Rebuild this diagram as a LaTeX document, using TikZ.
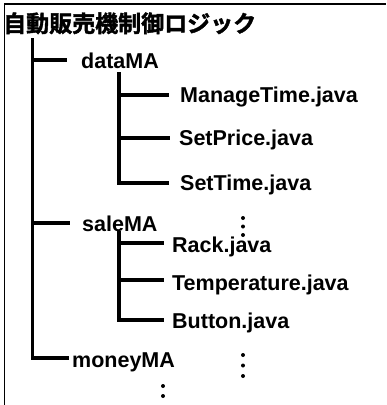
\documentclass[tikz,border=0pt]{standalone}
\usepackage{fontspec}
\setmainfont{Liberation Sans}
\newfontfamily\cjk[FakeBold=1.8]{Noto Sans CJK JP Bold}
\begin{document}
\begin{tikzpicture}[x=1pt,y=-1pt,
  lbl/.style={anchor=base west,inner sep=0pt,font=\fontsize{21.5}{24}\selectfont\bfseries},
  tree/.style={line width=3.2pt,line cap=rect},
  frame/.style={line width=1.8pt},
  dotc/.style={circle,fill=black,inner sep=0pt,minimum size=4pt}]
\useasboundingbox (0,0) rectangle (387,405);
% frame
\coordinate (fb) at (4.5,405);
\coordinate (ftl) at (4.5,4);
\coordinate (ftr) at (386,4);
\draw[frame] (fb) -- (ftl) -- (ftr);
% title
\node[anchor=base west,inner sep=0pt,font=\cjk\fontsize{23}{26}\selectfont] (title) at (3,32) {自動販売機制御ロジック};
% labels
\node[lbl] (dataMA) at (81,68) {dataMA};
\node[lbl] (manage) at (180,102) {ManageTime.java};
\node[lbl] (setprice) at (179,145) {SetPrice.java};
\node[lbl] (settime) at (180,190) {SetTime.java};
\node[lbl] (saleMA) at (82,231) {saleMA};
\node[lbl] (rack) at (172,252) {Rack.java};
\node[lbl] (temp) at (172,290) {Temperature.java};
\node[lbl] (button) at (172,328) {Button.java};
\node[lbl] (moneyMA) at (72,367) {moneyMA};
% trunk
\coordinate (t0) at (32.5,40);
\coordinate (eData) at (65,60);
\coordinate (eSale) at (68,223);
\coordinate (eMoney) at (67,358);
\draw[tree] (t0) |- (eMoney);
\draw[tree] (t0 |- eData) -- (eData);
\draw[tree] (t0 |- eSale) -- (eSale);
% data subtree
\coordinate (s0) at (119,74);
\coordinate (eManage) at (167,95);
\coordinate (ePrice) at (168,138);
\coordinate (eSetTime) at (167,183);
\draw[tree] (s0) |- (eSetTime);
\draw[tree] (s0 |- eManage) -- (eManage);
\draw[tree] (s0 |- ePrice) -- (ePrice);
% sale subtree
\coordinate (s1) at (119,233);
\coordinate (eRack) at (162,243);
\coordinate (eTemp) at (162,280);
\coordinate (eButton) at (162,320);
\draw[tree] (s1) |- (eButton);
\draw[tree] (s1 |- eRack) -- (eRack);
\draw[tree] (s1 |- eTemp) -- (eTemp);
% ellipses
\node[dotc] (d1a) at (243,218) {};
\node[dotc] (d1b) at (243,226.5) {};
\node[dotc] (d1c) at (243,235) {};
\node[dotc] (d2a) at (243,355) {};
\node[dotc] (d2b) at (243,365.5) {};
\node[dotc] (d2c) at (243,376) {};
\node[dotc] (d3a) at (163,386) {};
\node[dotc] (d3b) at (163,396) {};
\end{tikzpicture}
\end{document}
